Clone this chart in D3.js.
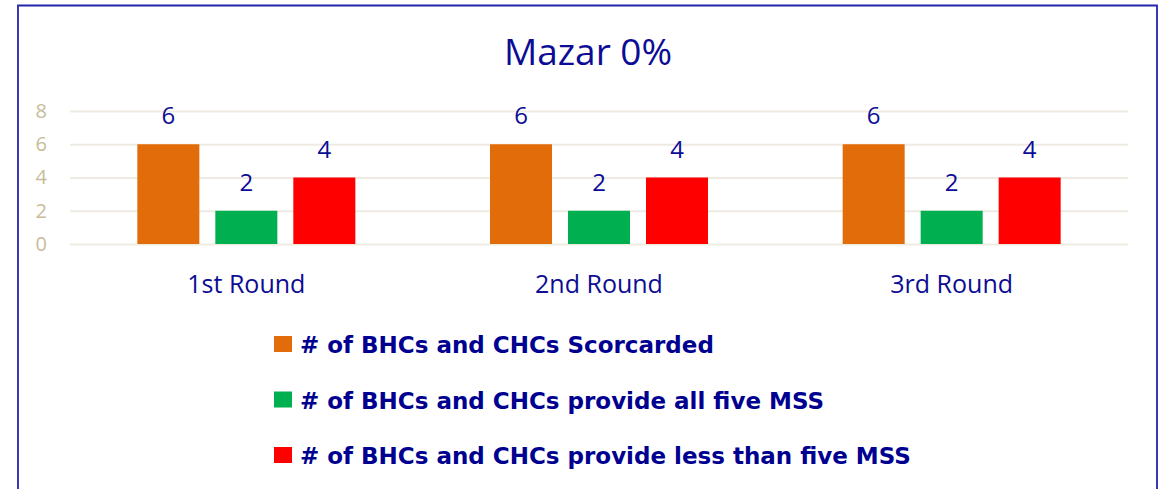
<!DOCTYPE html>
<html>
<head>
<meta charset="utf-8">
<script src="https://cdn.jsdelivr.net/npm/d3@7"></script>
<style>
  body { margin: 0; background: #fff; }
  svg { display: block; font-family: "Open Sans", Lato, sans-serif; }
</style>
</head>
<body>
<svg id="chart" width="1166" height="489"></svg>
<script>
// chart data
var title = "Mazar 0%";
var rounds = ["1st Round", "2nd Round", "3rd Round"];
var seriesNames = [
    "# of BHCs and CHCs Scorcarded",
    "# of BHCs and CHCs provide all five MSS",
    "# of BHCs and CHCs provide less than five MSS"
];
var scorcarded = [6, 6, 6];
var allFive = [2, 2, 2];
var lessThanFive = [4, 4, 4];
var yTicks = [0, 2, 4, 6, 8];
var colors = ["#e36c0a", "#00b050", "#ff0000"];

var series = [scorcarded, allFive, lessThanFive];

var svg = d3.select('#chart');
var W = 1166, H = 489;
var plot = { left: 70, right: 1128, top: 111, bottom: 244 };
var dark = "#0c0c94";

// frame (bottom edge is cut off in the original)
svg.append('path')
    .attr('d', 'M18,' + (H + 2) + ' V5.5 H1157 V' + (H + 2))
    .attr('fill', 'none')
    .attr('stroke', '#2424ac')
    .attr('stroke-width', 1.8);

svg.append('text')
    .attr('x', 588).attr('y', 65)
    .attr('text-anchor', 'middle')
    .attr('fill', dark)
    .style('font-size', '37px')
    .text(title);

var y = d3.scaleLinear().domain([0, 8]).range([plot.bottom, plot.top]);
var x0 = d3.scaleBand().domain(rounds).range([plot.left, plot.right]);
var x1 = d3.scaleBand().domain(d3.range(series.length))
    .range([0, 218]).paddingInner(0.205);

// gridlines + y labels
var yAxis = d3.axisLeft(y).tickValues(yTicks).tickSize(-(plot.right - plot.left)).tickPadding(23);
var gy = svg.append('g').attr('transform', 'translate(' + plot.left + ',0)').call(yAxis);
gy.select('.domain').remove();
gy.selectAll('.tick line').attr('stroke', '#efebe2').attr('stroke-width', 2);
gy.selectAll('.tick text').attr('fill', '#c6bd98').style('font-size', '20px')
    .style('font-family', '"Open Sans", sans-serif');

// bars
var groups = svg.selectAll('.round').data(rounds).enter().append('g')
    .attr('class', 'round')
    .attr('transform', function (d) {
        return 'translate(' + (x0(d) + x0.bandwidth() / 2 - 109) + ',0)';
    });

groups.each(function (r, ri) {
    var g = d3.select(this);
    series.forEach(function (s, si) {
        g.append('rect')
            .attr('x', x1(si))
            .attr('y', y(s[ri]))
            .attr('width', x1.bandwidth())
            .attr('height', y(0) - y(s[ri]))
            .attr('fill', colors[si]);
        g.append('text')
            .attr('x', x1(si) + x1.bandwidth() / 2)
            .attr('y', y(s[ri]) - 20)
            .attr('text-anchor', 'middle')
            .attr('fill', dark)
            .style('font-size', '24px')
            .text(s[ri]);
    });
});

// category labels
svg.selectAll('.cat').data(rounds).enter().append('text')
    .attr('class', 'cat')
    .attr('x', function (d) { return x0(d) + x0.bandwidth() / 2; })
    .attr('y', 293)
    .attr('text-anchor', 'middle')
    .attr('fill', dark)
    .style('font-size', '25px')
    .text(function (d) { return d; });

// legend
var legend = svg.selectAll('.legend').data(seriesNames).enter().append('g')
    .attr('class', 'legend')
    .attr('transform', function (d, i) { return 'translate(274,' + (344 + i * 55.5) + ')'; });
legend.append('rect')
    .attr('x', 0).attr('y', -8).attr('width', 18).attr('height', 16)
    .attr('fill', function (d, i) { return colors[i]; });
legend.append('text')
    .attr('x', 26).attr('y', 9)
    .attr('fill', '#000090')
    .style('font-family', '"DejaVu Sans", sans-serif')
    .style('font-size', '23px').style('font-weight', 'bold')
    .text(function (d) { return d; });
</script>
</body>
</html>
